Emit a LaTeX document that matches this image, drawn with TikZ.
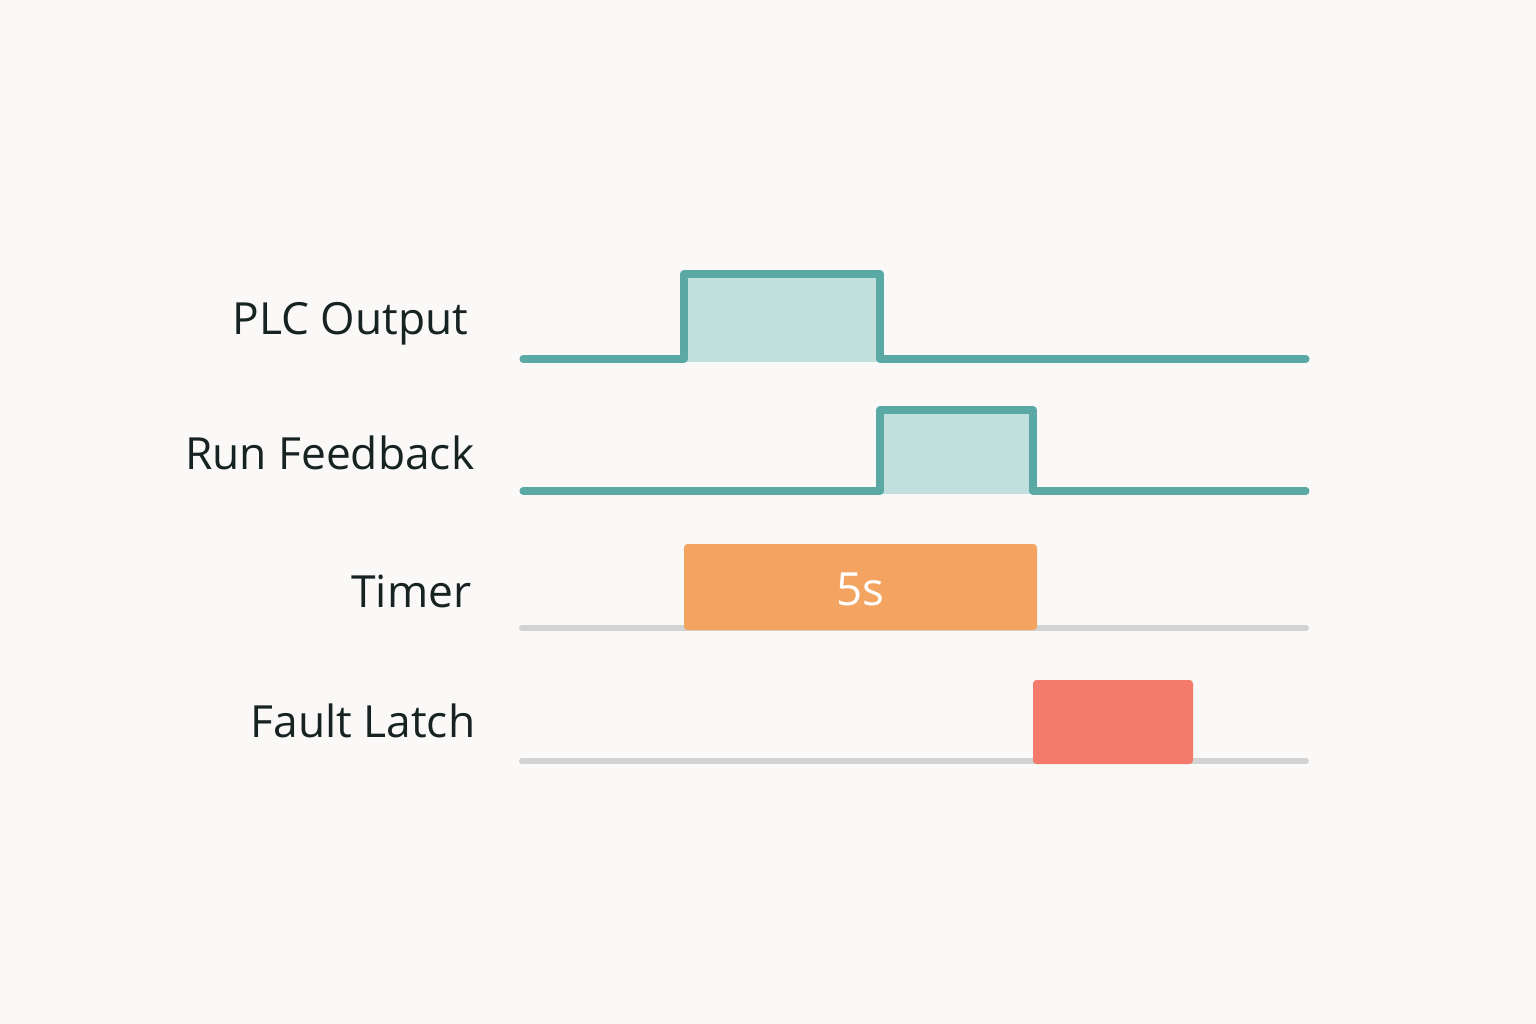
\documentclass[tikz,border=0pt]{standalone}
\usepackage{fontspec}
\setmainfont{Open Sans}
\usetikzlibrary{calc}
\definecolor{bgcol}{HTML}{FAF9F7}
\definecolor{sigline}{HTML}{5BA9A5}
\definecolor{sigfill}{HTML}{C1DFDD}
\definecolor{baseline}{HTML}{D3D3D3}
\definecolor{timercol}{HTML}{F3A461}
\definecolor{faultcol}{HTML}{F47B6C}
\definecolor{labelcol}{HTML}{172323}
\tikzset{
  siglabel/.style={anchor=base east, text=labelcol, font=\fontsize{12.6}{15}\selectfont, inner sep=0pt},
  wave/.style={draw=sigline, line width=2pt, line cap=round, line join=round},
  track/.style={draw=baseline, line width=1.7pt, line cap=round}
}
\begin{document}
\begin{tikzpicture}[x=0.01cm,y=-0.01cm]
        \fill[bgcol] (0,0) rectangle (1536,1024);
        \useasboundingbox (0,0) rectangle (1536,1024);

        % Подписи сигналов
        \node[siglabel] (lplc) at (469,334) {PLC Output};
        \node[siglabel] (lrun) at (475,469) {Run Feedback};
        \node[siglabel] (ltim) at (472,607) {Timer};
        \node[siglabel] (lflt) at (476,737) {Fault Latch};

        % PLC Output
        \fill[sigfill] (684,274) rectangle (880,362);
        \draw[wave] (523,359) -- (684,359) -- (684,274) -- (880,274) -- (880,359) -- (1306,359);

        % Run Feedback
        \fill[sigfill] (880,410) rectangle (1033,494);
        \draw[wave] (523,491) -- (880,491) -- (880,410) -- (1033,410) -- (1033,491) -- (1306,491);

        % Timer
        \draw[track] (522,628) -- (1306,628);
        \fill[timercol, rounded corners=1pt] (684,544) rectangle (1037,630);
        \node[text=white, font=\fontsize{13}{16}\selectfont] (t5) at (860,589) {5s};

        % Fault Latch
        \draw[track] (522,761) -- (1306,761);
        \fill[faultcol, rounded corners=1pt] (1033,680) rectangle (1193,764);
    \end{tikzpicture}
\end{document}
